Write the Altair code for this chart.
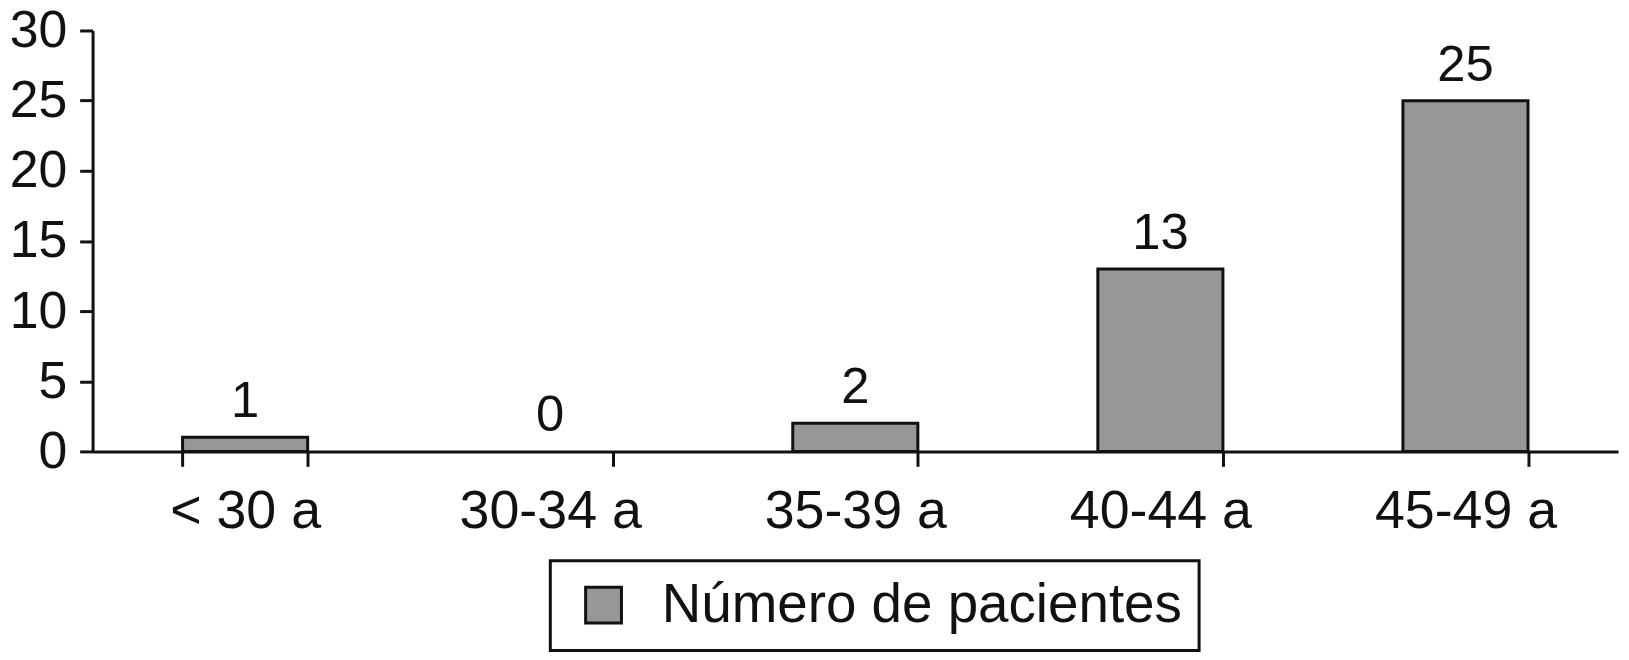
import altair as alt
import pandas as pd

categorias = ["< 30 a", "30-34 a", "35-39 a", "40-44 a", "45-49 a"]
pacientes = [1, 0, 2, 13, 25]
serie = "Número de pacientes"
y_ticks = [0, 5, 10, 15, 20, 25, 30]

df = pd.DataFrame({"edad": categorias, "n": pacientes, "serie": [serie] * len(categorias)})

FONT = "Liberation Sans"
INK = "#111111"

x_enc = alt.X(
    "edad:N",
    sort=categorias,
    scale=alt.Scale(paddingInner=0.59, paddingOuter=0.295),
    axis=alt.Axis(
        title=None,
        labelAngle=0,
        labelFontSize=54,
        labelFont=FONT,
        labelColor=INK,
        labelPadding=18,
        labelLimit=0,
        tickBand="extent",
        tickSize=15,
        tickWidth=3,
        tickColor=INK,
        domainWidth=3,
        domainColor=INK,
        grid=False,
    ),
)
y_enc = alt.Y(
    "n:Q",
    scale=alt.Scale(domain=[0, 30], nice=False),
    axis=alt.Axis(
        title=None,
        values=y_ticks,
        labelFontSize=52,
        labelFont=FONT,
        labelColor=INK,
        labelPadding=13,
        tickSize=13,
        tickWidth=3,
        tickColor=INK,
        domainWidth=3,
        domainColor=INK,
        grid=False,
    ),
)

bars = alt.Chart(df).mark_bar(strokeWidth=3).encode(
    x=x_enc,
    y=y_enc,
    stroke=alt.condition(alt.datum.n > 0, alt.value(INK), alt.value("transparent")),
    color=alt.Color(
        "serie:N",
        scale=alt.Scale(range=["#979797"]),
        legend=alt.Legend(
            title=None,
            orient="none",
            legendX=460,
            legendY=533,
            symbolType="square",
            symbolSize=1296,
            symbolStrokeColor=INK,
            symbolStrokeWidth=3,
            symbolOffset=9,
            labelFontSize=55,
            labelFont=FONT,
            labelColor=INK,
            labelOffset=31,
            labelLimit=0,
            padding=17,
            strokeColor=INK,
            fillColor="white",
        ),
    ),
)

labels = alt.Chart(df).mark_text(
    fontSize=51, font=FONT, color=INK, baseline="alphabetic", dy=-20
).encode(x=alt.X("edad:N", sort=categorias), y="n:Q", text="n:Q")

chart = (
    alt.layer(bars, labels)
    .properties(
        width=1533,
        height=423,
        autosize=alt.AutoSizeParams(type="none"),
        padding={"left": 85, "top": 21, "right": 3, "bottom": 200},
    )
    .configure_view(stroke="transparent")
    .configure_legend(strokeWidth=3)
)

chart.save("out.html", embed_options={"renderer": "svg", "actions": False})
